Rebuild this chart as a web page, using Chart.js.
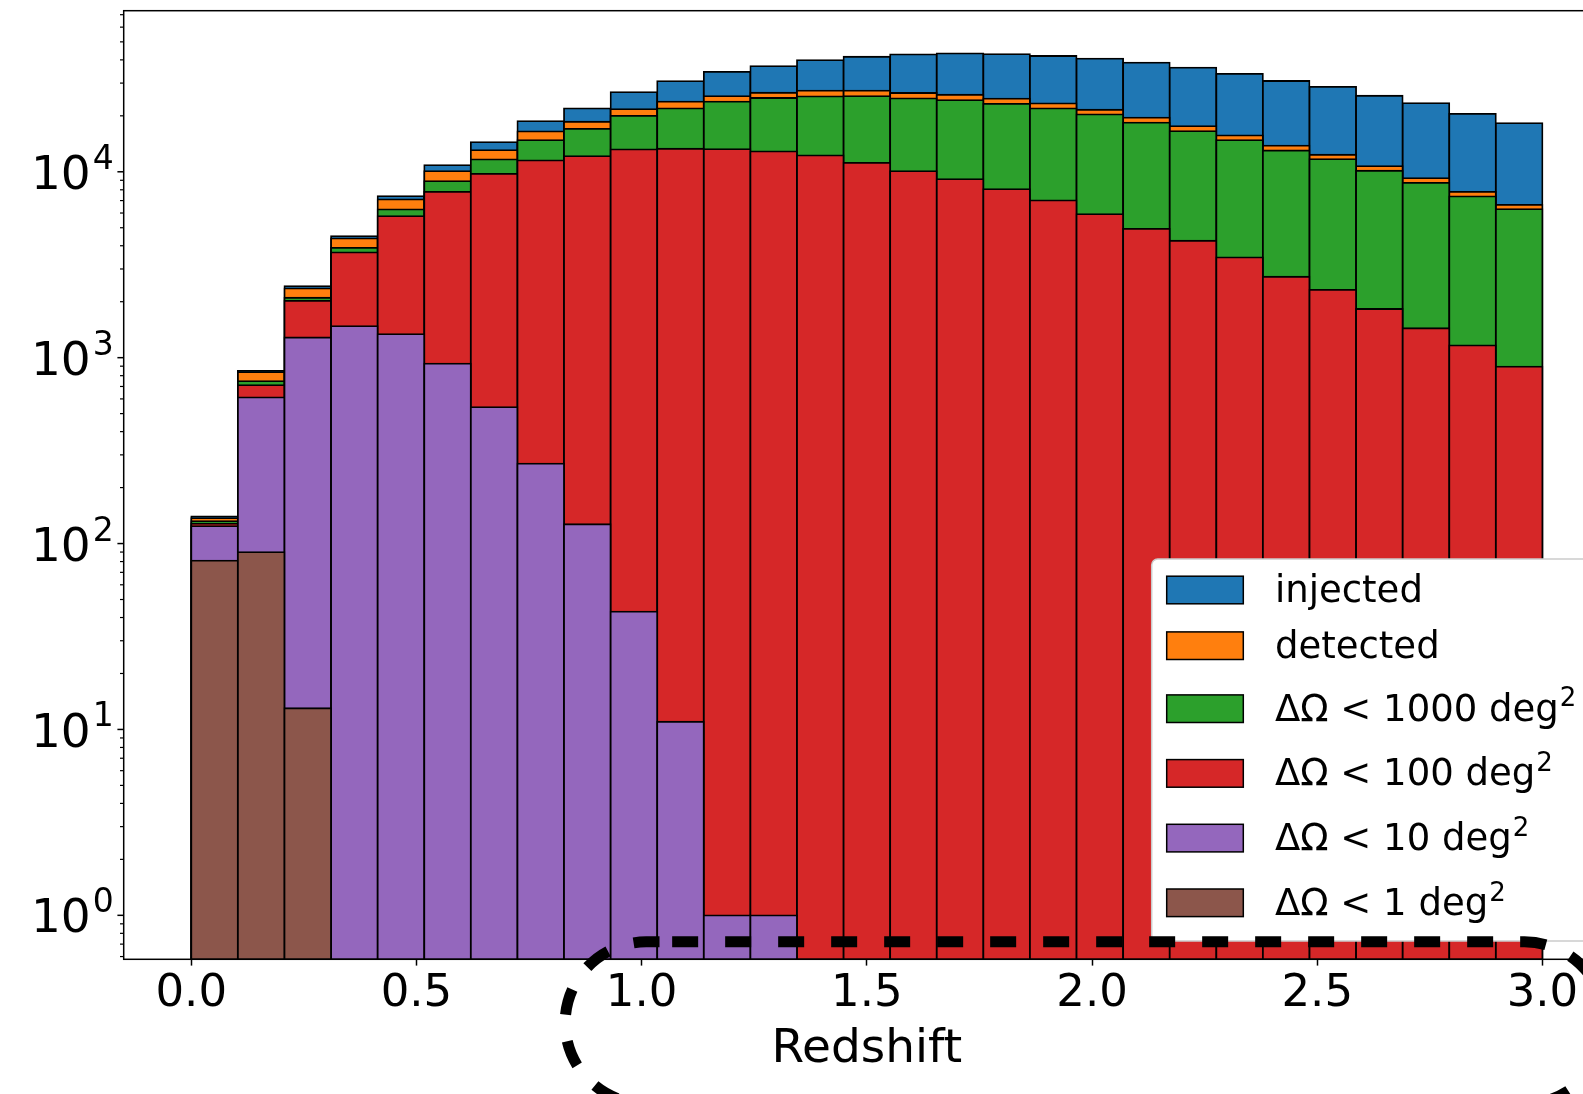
<!DOCTYPE html>
<html>
<head>
<meta charset="utf-8">
<title>Redshift distribution</title>
<script src="https://cdn.jsdelivr.net/npm/chart.js@4.4.0/dist/chart.umd.min.js"></script>
<style>
  html, body { margin: 0; padding: 0; background: #ffffff; overflow: hidden; }
  #wrap { width: 1640px; height: 1094px; }
</style>
</head>
<body>
<div id="wrap"><canvas id="c" width="1640" height="1094"></canvas></div>
<script>
// Redshift bins (centres of 29 equal bins between 0 and 3)
const binCenters = [
  0.0517, 0.1552, 0.2586, 0.3621, 0.4655, 0.5690, 0.6724, 0.7759, 0.8793, 0.9828,
  1.0862, 1.1897, 1.2931, 1.3966, 1.5000, 1.6034, 1.7069, 1.8103, 1.9138, 2.0172,
  2.1207, 2.2241, 2.3276, 2.4310, 2.5345, 2.6379, 2.7414, 2.8448, 2.9483
];

// Counts per bin for each population
const injected = [
  140, 849, 2427, 4508, 7400, 10870, 14450, 18750, 21950, 26850,
  30710, 34500, 37050, 39900, 41570, 42840, 43380, 43000, 41970, 40580,
  38620, 36300, 33650, 30790, 28660, 25640, 23430, 20470, 18270
];
const detected = [
  137, 836, 2357, 4380, 7100, 10080, 13090, 16480, 18590, 21740,
  23850, 25530, 26620, 27310, 27310, 26540, 25960, 24740, 23330, 21570,
  19540, 17620, 15710, 13810, 12350, 10730, 9250, 7800, 6640
];
const skyArea1000 = [
  132, 747, 2100, 3898, 6280, 8910, 11660, 14820, 17020, 20000,
  21940, 23850, 24940, 25470, 25530, 24840, 24320, 23220, 21940, 20360,
  18370, 16560, 14820, 13020, 11710, 10130, 8720, 7370, 6300
];
const skyArea100 = [
  128, 711, 2023, 3683, 5780, 7800, 9750, 11510, 12150, 13200,
  13300, 13250, 12870, 12250, 11180, 10090, 9140, 8070, 7010, 5920,
  4930, 4255, 3460, 2725, 2317, 1827, 1440, 1164, 895
];
const skyArea10 = [
  124, 612, 1284, 1479, 1340, 929, 542, 269, 127, 43,
  11, 1, 1, 0, 0, 0, 0, 0, 0, 0,
  0, 0, 0, 0, 0, 0, 0, 0, 0
];
const skyArea1 = [
  81, 90, 13, 0, 0, 0, 0, 0, 0, 0,
  0, 0, 0, 0, 0, 0, 0, 0, 0, 0,
  0, 0, 0, 0, 0, 0, 0, 0, 0
];

const seriesLabels = ['injected', 'detected', 'ΔΩ < 1000 deg²', 'ΔΩ < 100 deg²', 'ΔΩ < 10 deg²', 'ΔΩ < 1 deg²'];
const seriesData = [injected, detected, skyArea1000, skyArea100, skyArea10, skyArea1];
const seriesColors = ['#1f77b4', '#ff7f0e', '#2ca02c', '#d62728', '#9467bd', '#8c564b'];

// Axis ticks
const xTickValues = [0.0, 0.5, 1.0, 1.5, 2.0, 2.5, 3.0];
const xTickLabels = ['0.0', '0.5', '1.0', '1.5', '2.0', '2.5', '3.0'];
const yDecadeValues = [1, 10, 100, 1000, 10000];
const yDecadeExponents = ['0', '1', '2', '3', '4'];

const FONT = '"DejaVu Sans", "Liberation Sans", sans-serif';
const EDGE = 1.8;

const datasets = seriesData.map((vals, k) => ({
  label: seriesLabels[k],
  data: vals.map((v, i) => ({ x: binCenters[i], y: v > 0 ? v : null })),
  backgroundColor: seriesColors[k],
  borderColor: '#000000',
  borderWidth: EDGE,
  borderSkipped: false,
  inflateAmount: EDGE / 2,
  grouped: false,
  barPercentage: 1.0,
  categoryPercentage: 1.0,
  order: seriesData.length - k
}));

// Axes frame, log ticks with superscript labels, legend and the dashed outline
const decorations = {
  id: 'decorations',
  afterDatasetsDraw(chart) {
    const { ctx, chartArea: a } = chart;
    ctx.save();
    ctx.strokeStyle = '#000';
    ctx.lineWidth = 1.5;
    ctx.strokeRect(a.left, a.top, a.right - a.left, a.bottom - a.top);
    ctx.restore();
  },
  afterDraw(chart) {
    const { ctx, chartArea: a } = chart;
    const xs = chart.scales.x, ys = chart.scales.y;
    ctx.save();

    // y ticks: minor at 2..9 of each decade, major at each decade
    ctx.strokeStyle = '#000';
    [0.1].concat(yDecadeValues).forEach((d) => {
      for (let m = 2; m <= 9; m++) {
        const v = d * m;
        if (v < ys.min || v > ys.max) continue;
        const y = ys.getPixelForValue(v);
        ctx.lineWidth = 1.2;
        ctx.beginPath();
        ctx.moveTo(a.left, y);
        ctx.lineTo(a.left - 3.7, y);
        ctx.stroke();
      }
    });
    yDecadeValues.forEach((d) => {
      const y = ys.getPixelForValue(d);
      ctx.lineWidth = 1.5;
      ctx.beginPath();
      ctx.moveTo(a.left, y);
      ctx.lineTo(a.left - 6.3, y);
      ctx.stroke();
    });

    // y tick labels: 10 with raised exponent
    const baseSize = 47, supSize = 33;
    ctx.fillStyle = '#000';
    ctx.textBaseline = 'alphabetic';
    ctx.textAlign = 'left';
    yDecadeValues.forEach((d, i) => {
      const y = ys.getPixelForValue(d);
      ctx.font = supSize + 'px ' + FONT;
      const supW = ctx.measureText(yDecadeExponents[i]).width;
      ctx.font = baseSize + 'px ' + FONT;
      const baseW = ctx.measureText('10').width;
      const right = a.left - 10;
      const x0 = right - supW - baseW - 2;
      ctx.fillText('10', x0, y + baseSize * 0.3645);
      ctx.font = supSize + 'px ' + FONT;
      ctx.fillText(yDecadeExponents[i], x0 + baseW + 2, y - 3);
    });

    // legend
    const lgLeft = 1151.7, lgTop = 559, lgBottom = 941, lgRight = 1700;
    ctx.fillStyle = '#ffffff';
    ctx.strokeStyle = '#cccccc';
    ctx.lineWidth = 1.5;
    ctx.beginPath();
    ctx.roundRect(lgLeft, lgTop, lgRight - lgLeft, lgBottom - lgTop, 6);
    ctx.fill();
    ctx.stroke();

    const fs = 37, sfs = 26;
    let cy = lgTop + 31;
    seriesLabels.forEach((lab, i) => {
      if (i > 0) {
        const prevSup = seriesLabels[i - 1].endsWith('²');
        const curSup = lab.endsWith('²');
        cy += (prevSup && curSup) ? 64.7 : (prevSup || curSup) ? 63 : 55.7;
      }
      ctx.fillStyle = seriesColors[i];
      ctx.fillRect(1166.7, cy - 13.8, 76.6, 27.6);
      ctx.strokeStyle = '#000';
      ctx.lineWidth = 1.5;
      ctx.strokeRect(1166.7, cy - 13.8, 76.6, 27.6);
      ctx.fillStyle = '#000';
      const hasSup = lab.endsWith('²');
      const main = hasSup ? lab.slice(0, -1) : lab;
      ctx.font = fs + 'px ' + FONT;
      const base = cy + 12;
      ctx.fillText(main, 1275, base);
      if (hasSup) {
        const w = ctx.measureText(main).width;
        ctx.font = sfs + 'px ' + FONT;
        ctx.fillText('2', 1275 + w + 1, base - 14.3);
      }
    });

    // dashed outline around the high-redshift tail
    const cxL = xs.getPixelForValue(1.01);
    const cxR = xs.getPixelForValue(2.96);
    const top = ys.getPixelForValue(0.72);
    const r = 81;
    ctx.strokeStyle = '#000';
    ctx.lineWidth = 11;
    ctx.setLineDash([26, 27]);
    ctx.beginPath();
    ctx.moveTo(cxL + 26, top);
    ctx.lineTo(cxR, top);
    ctx.arc(cxR, top + r, r, -Math.PI / 2, Math.PI / 2);
    ctx.lineTo(cxL, top + 2 * r);
    ctx.arc(cxL, top + r, r, Math.PI / 2, Math.PI * 1.5);
    ctx.lineTo(cxL + 26, top);
    ctx.stroke();
    ctx.restore();
  }
};

new Chart(document.getElementById('c'), {
  type: 'bar',
  data: { datasets },
  options: {
    responsive: false,
    animation: false,
    events: [],
    layout: { padding: { left: 0, top: 10.7, right: 30, bottom: 0 } },
    plugins: {
      legend: { display: false },
      tooltip: { enabled: false },
      title: { display: false }
    },
    scales: {
      x: {
        type: 'linear',
        min: -0.15,
        max: 3.15,
        offset: false,
        afterBuildTicks: (s) => { s.ticks = xTickValues.map(v => ({ value: v })); },
        afterFit: (s) => { s.height = 1094 - 959.3; },
        grid: { display: true, drawOnChartArea: false, drawTicks: true, tickLength: 6.3, tickWidth: 1.5, tickColor: '#000', offset: false },
        border: { display: false },
        ticks: {
          autoSkip: false,
          maxRotation: 0,
          padding: 2,
          color: '#000',
          font: { family: FONT, size: 45 },
          callback: (v, i) => xTickLabels[i]
        },
        title: {
          display: true,
          text: 'Redshift',
          color: '#000',
          font: { family: FONT, size: 47 },
          padding: { top: 0, bottom: 16.5 }
        }
      },
      y: {
        type: 'logarithmic',
        min: 0.58,
        max: 73550,
        afterFit: (s) => { s.width = 123.7; },
        grid: { display: false },
        border: { display: false },
        ticks: { display: false }
      }
    }
  },
  plugins: [decorations]
});
</script>
</body>
</html>
